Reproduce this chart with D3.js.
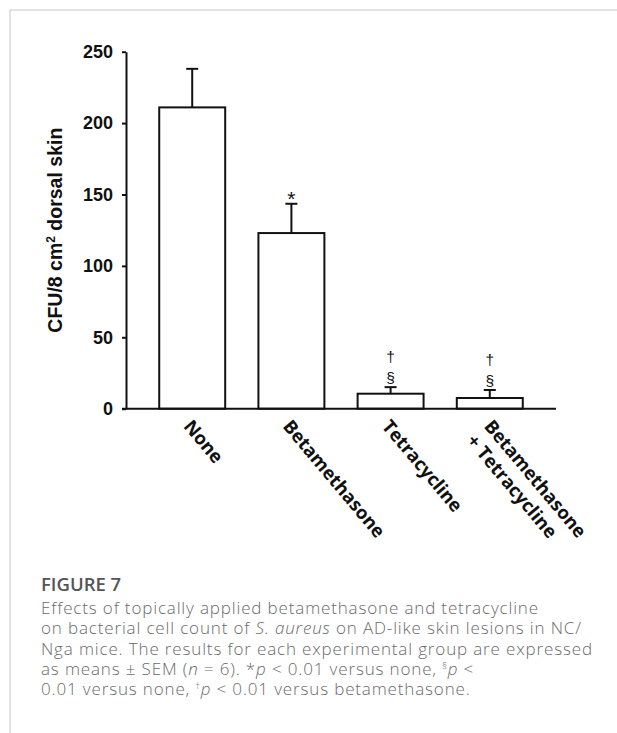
<!DOCTYPE html>
<html>
<head>
<meta charset="utf-8">
<script src="https://cdn.jsdelivr.net/npm/d3@7"></script>
<style>
  body { margin: 0; background: #fff; }
  svg { display: block; }
</style>
</head>
<body>
<div id="chart"></div>
<script>
const categories = [["None"], ["Betamethasone"], ["Tetracycline"], ["Betamethasone", "+ Tetracycline"]];
const means = [211, 123, 10.5, 7.5];
const sems = [27, 20.5, 4.6, 5.6];
const marks = [[], ["*"], ["§", "†"], ["§", "†"]];
const yTicks = [0, 50, 100, 150, 200, 250];

const width = 617, height = 733;
const margin = { top: 51.7, left: 126, right: 61, bottom: 323 };

const svg = d3.select("#chart")
    .append("svg")
    .attr("width", width)
    .attr("height", height);

// frame lines
svg.append("path")
    .attr("d", "M10,733V10H617")
    .attr("fill", "none")
    .attr("stroke", "#dadada")
    .attr("stroke-width", 1.5);

const x = d3.scaleBand()
    .domain(d3.range(categories.length))
    .range([margin.left, width - margin.right])
    .padding(0.335);

const y = d3.scaleLinear()
    .domain([0, 250])
    .range([height - margin.bottom - 1.3, margin.top]);

const g = svg.append("g");

// bars
g.selectAll("rect")
    .data(means)
    .enter()
    .append("rect")
    .attr("x", (d, i) => x(i))
    .attr("y", d => y(d))
    .attr("width", x.bandwidth())
    .attr("height", d => y(0) - y(d))
    .attr("fill", "#fff")
    .attr("stroke", "#111")
    .attr("stroke-width", 2);

// error bars
const err = g.selectAll(".err")
    .data(means)
    .enter()
    .append("g")
    .attr("class", "err")
    .attr("stroke", "#111")
    .attr("stroke-width", 2);

err.append("line")
    .attr("x1", (d, i) => x(i) + x.bandwidth() / 2)
    .attr("x2", (d, i) => x(i) + x.bandwidth() / 2)
    .attr("y1", d => y(d))
    .attr("y2", (d, i) => y(d + sems[i]));

err.append("line")
    .attr("x1", (d, i) => x(i) + x.bandwidth() / 2 - 6)
    .attr("x2", (d, i) => x(i) + x.bandwidth() / 2 + 6)
    .attr("y1", (d, i) => y(d + sems[i]))
    .attr("y2", (d, i) => y(d + sems[i]));

// significance marks
marks.forEach((m, i) => {
    const cx = x(i) + x.bandwidth() / 2;
    const top = y(means[i] + sems[i]);
    m.forEach((s, k) => {
        g.append("text")
            .attr("x", cx)
            .attr("y", s === "*" ? top + 2 : top - 4 - k * 21)
            .attr("text-anchor", "middle")
            .attr("font-family", "Liberation Sans, Arial, sans-serif")
            .attr("font-size", s === "*" ? 21 : 15.5)
            .attr("fill", "#111")
            .text(s);
    });
});

// y axis
const yAxis = svg.append("g")
    .attr("transform", `translate(${margin.left},0)`)
    .call(d3.axisLeft(y).tickValues(yTicks).tickSize(4).tickSizeOuter(0).tickPadding(9));
yAxis.selectAll("path, line").attr("stroke", "#111").attr("stroke-width", 2);
yAxis.selectAll("text")
    .attr("font-family", "Liberation Sans, Arial, sans-serif")
    .attr("font-weight", "bold")
    .attr("font-size", 18)
    .attr("fill", "#111");

// x axis baseline
svg.append("line")
    .attr("x1", margin.left - 4)
    .attr("x2", x.range()[1])
    .attr("y1", y(0))
    .attr("y2", y(0))
    .attr("stroke", "#111")
    .attr("stroke-width", 2);

// rotated category labels
categories.forEach((lines, i) => {
    const ax = x(i) + x.bandwidth() / 2 - (lines.length > 1 ? 6.5 : 9.5);
    const ay = y(0) + 18;
    lines.forEach((t, k) => {
        svg.append("text")
            .attr("transform", `translate(${ax - k * 17.5},${ay + k * 14.5}) rotate(50)`)
            .attr("font-family", "Open Sans, sans-serif")
            .attr("font-weight", "bold")
            .attr("font-size", 18.5)
            .attr("fill", "#111")
            .text(t);
    });
});

// y axis title
svg.append("text")
    .attr("transform", `translate(62,${(y(0) + y(250)) / 2}) rotate(-90)`)
    .attr("text-anchor", "middle")
    .attr("font-family", "Liberation Sans, Arial, sans-serif")
    .attr("font-weight", "bold")
    .attr("font-size", 19.5)
    .attr("fill", "#111")
    .call(t => {
        t.append("tspan").text("CFU/8 cm");
        t.append("tspan").attr("font-size", 12).attr("dy", -7).text("2");
        t.append("tspan").attr("dy", 7).text(" dorsal skin");
    });

// caption
svg.append("text")
    .attr("x", 41)
    .attr("y", 590.5)
    .attr("font-family", "Open Sans, sans-serif")
    .attr("font-weight", 600)
    .attr("font-size", 18.5)
    .attr("fill", "#555")
    .text("FIGURE 7");

const captionLines = [
    [["Effects of topically applied betamethasone and tetracycline"]],
    [["on bacterial cell count of "], ["S. aureus", "i"], [" on AD-like skin lesions in NC/"]],
    [["Nga mice. The results for each experimental group are expressed"]],
    [["as means ± SEM ("], ["n", "i"], [" = 6). *"], ["p", "i"], [" < 0.01 versus none, "], ["§", "s"], ["p", "i"], [" <"]],
    [["0.01 versus none, "], ["†", "s"], ["p", "i"], [" < 0.01 versus betamethasone."]]
];

const cap = svg.append("text")
    .attr("font-family", "Open Sans, sans-serif")
    .attr("font-weight", 300)
    .attr("font-size", 17)
    .attr("letter-spacing", 0.85)
    .attr("fill", "#6a6a6a");

captionLines.forEach((parts, li) => {
    parts.forEach((p, pi) => {
        const ts = cap.append("tspan").text(p[0]);
        if (pi === 0) ts.attr("x", 41).attr("y", 614 + li * 20.3);
        if (p[1] === "i") ts.attr("font-style", "italic");
        if (p[1] === "s") ts.attr("font-size", 9).attr("dy", -6);
        const prev = parts[pi - 1];
        if (prev && prev[1] === "s") ts.attr("dy", 6);
    });
});
</script>
</body>
</html>
